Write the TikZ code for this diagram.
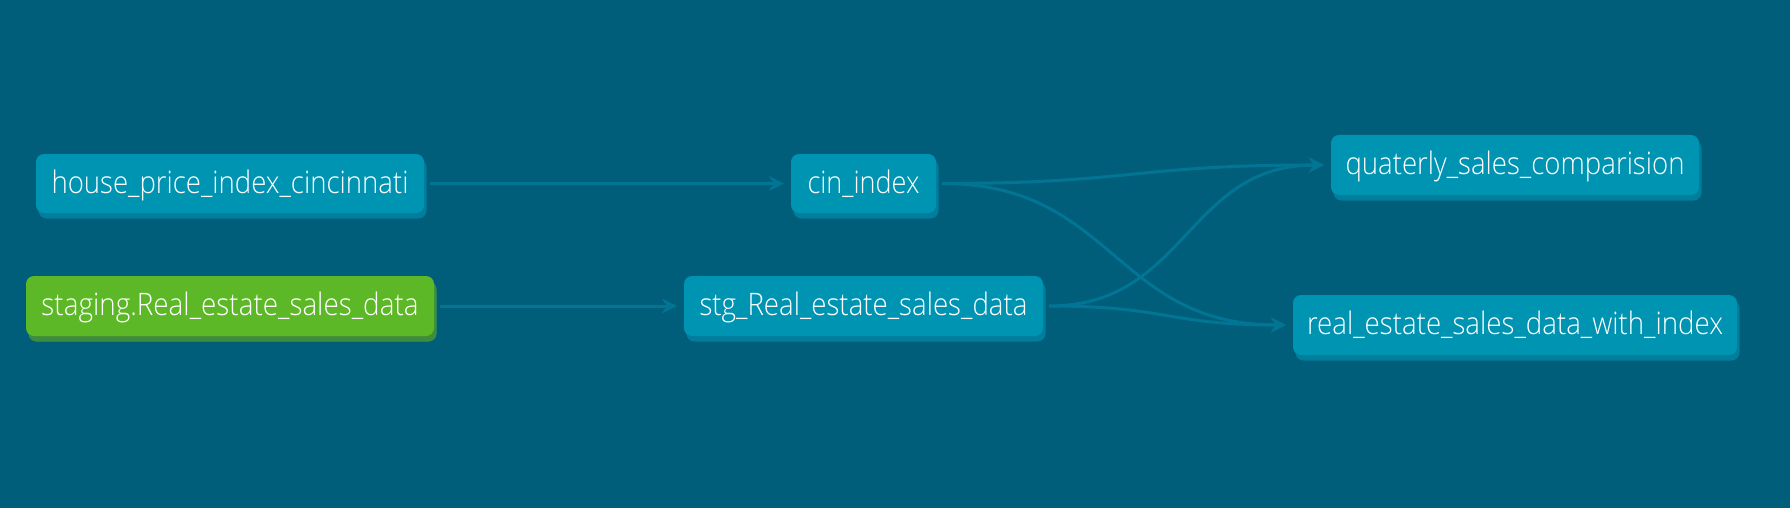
\documentclass[tikz,border=0pt]{standalone}
\usepackage{fontspec}
\IfFontExistsTF{Open Sans Light}{\setmainfont{Open Sans Light}}{%
  \IfFontExistsTF{Noto Sans Light}{\setmainfont{Noto Sans Light}}{%
    \IfFontExistsTF{Lato Light}{\setmainfont{Lato Light}}{\setmainfont{Open Sans}}}}
\usetikzlibrary{calc,shadows,arrows.meta}
\definecolor{bgc}{HTML}{005E7B}
\definecolor{nodeblue}{HTML}{0094B3}
\definecolor{shadeblue}{HTML}{007E9B}
\definecolor{nodegreen}{HTML}{5DB827}
\definecolor{shadegreen}{HTML}{3E8D3C}
\definecolor{edgec}{HTML}{017593}
\newcommand\lbl[2]{\resizebox{#1pt}{\height}{#2}}
\newcommand\flow[2]{%
  \coordinate (fs) at ([xshift=6pt]#1.east);
  \coordinate (ft) at ([xshift=-7pt]#2.west);
  \coordinate (fm) at ($(fs)!.5!(ft)$);
  \draw[edge] (fs) .. controls (fm |- fs) and (fm |- ft) .. (ft);}
\tikzset{
  model/.style={rounded corners=8pt, fill=nodeblue, text=white,
    minimum height=59pt, inner sep=0pt,
    text height=25pt, text depth=6pt,
    font=\fontsize{31}{36}\selectfont,
    general shadow={fill=shadeblue, shadow xshift=2.5pt, shadow yshift=-5.5pt}},
  source/.style={model, fill=nodegreen,
    general shadow={fill=shadegreen, shadow xshift=2.5pt, shadow yshift=-5.5pt}},
  edge/.style={draw=edgec, line width=3pt,
    -{Stealth[length=15pt, width=15pt, inset=5pt]}}
}
\begin{document}
\begin{tikzpicture}[x=1pt,y=-1pt]
\fill[bgc] (0,0) rectangle (1790,508);
\useasboundingbox (0,0) rectangle (1790,508);
\node[model, minimum width=388pt] (house) at (230,183.5) {\lbl{357}{house\_price\_index\_cincinnati}};
\node[source, minimum width=408pt, minimum height=60pt] (staging) at (230,306) {\lbl{377}{staging.Real\_estate\_sales\_data}};
\node[model, minimum width=145pt] (cin) at (863.5,183.5) {\lbl{112}{cin\_index}};
\node[model, minimum width=359pt, minimum height=60pt] (stg) at (863.5,306) {\lbl{328}{stg\_Real\_estate\_sales\_data}};
\node[model, minimum width=368pt, minimum height=60pt] (qsc) at (1515,165) {\lbl{339}{quaterly\_sales\_comparision}};
\node[model, minimum width=444pt, minimum height=60pt] (rsi) at (1515,325) {\lbl{416}{real\_estate\_sales\_data\_with\_index}};
\flow{house}{cin}
\flow{staging}{stg}
\flow{cin}{qsc}
\flow{cin}{rsi}
\flow{stg}{qsc}
\flow{stg}{rsi}
\end{tikzpicture}
\end{document}
